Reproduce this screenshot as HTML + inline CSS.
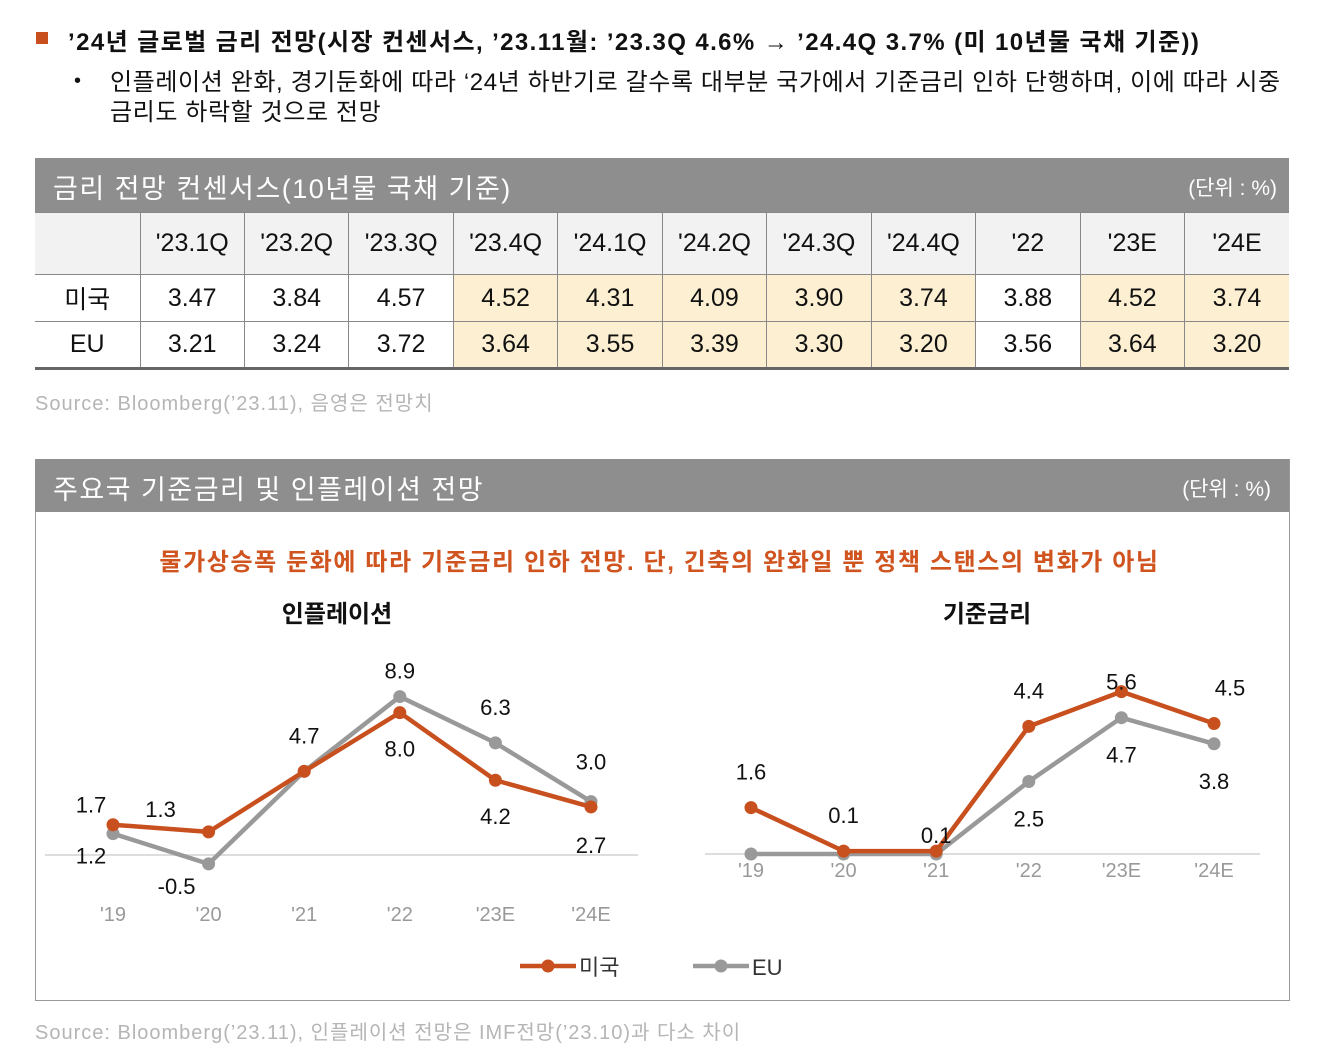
<!DOCTYPE html>
<html><head><meta charset="utf-8">
<style>
*{margin:0;padding:0;box-sizing:border-box}
body{width:1319px;height:1050px;background:#fff;font-family:"Liberation Sans","Noto Sans CJK KR",sans-serif;color:#111;position:relative;overflow:hidden}
.abs{position:absolute;white-space:nowrap}
.hdr{position:absolute;left:35px;width:1254px;background:#8e8e8e;color:#fff}
table{position:absolute;left:35px;top:212px;width:1254px;border-collapse:collapse;table-layout:fixed}
td{text-align:center;font-size:25px;border-left:1px solid #888;border-top:1px solid #888}
td:first-child{border-left:none}
tr.h td{height:62px;background:#f2f2f2}
tr.r td{height:47px}
tr.last td{border-bottom:3px solid #666}
td.f{background:#fdf0d2}
.src{font-size:20px;color:#b5b5b5;letter-spacing:1px}
</style></head><body>
<div class="abs" style="left:36px;top:32px;width:12px;height:12px;background:#c8501e"></div>
<div class="abs" style="left:68px;top:22px;font-size:24px;font-weight:bold;letter-spacing:1.4px">’24년 글로벌 금리 전망(시장 컨센서스, ’23.11월: ’23.3Q 4.6% → ’24.4Q 3.7% (미 10년물 국채 기준))</div>
<div class="abs" style="left:74px;top:70px;font-size:20px">•</div>
<div class="abs" style="left:110px;top:68px;font-size:24px;line-height:30px;letter-spacing:0.6px">인플레이션 완화, 경기둔화에 따라 ‘24년 하반기로 갈수록 대부분 국가에서 기준금리 인하 단행하며, 이에 따라 시중<br>금리도 하락할 것으로 전망</div>

<div class="hdr" style="top:158px;height:54px">
<span class="abs" style="left:18px;top:9px;font-size:27px;letter-spacing:1.5px">금리 전망 컨센서스(10년물 국채 기준)</span>
<span class="abs" style="right:12px;top:14px;font-size:21px">(단위 : %)</span></div>
<table>
<colgroup><col style="width:105px"></colgroup>
<tr class="h"><td></td><td>'23.1Q</td><td>'23.2Q</td><td>'23.3Q</td><td class="f">'23.4Q</td><td class="f">'24.1Q</td><td class="f">'24.2Q</td><td class="f">'24.3Q</td><td class="f">'24.4Q</td><td>'22</td><td class="f">'23E</td><td class="f">'24E</td></tr>
<tr class="r"><td>미국</td><td>3.47</td><td>3.84</td><td>4.57</td><td class="f">4.52</td><td class="f">4.31</td><td class="f">4.09</td><td class="f">3.90</td><td class="f">3.74</td><td>3.88</td><td class="f">4.52</td><td class="f">3.74</td></tr>
<tr class="r last"><td>EU</td><td>3.21</td><td>3.24</td><td>3.72</td><td class="f">3.64</td><td class="f">3.55</td><td class="f">3.39</td><td class="f">3.30</td><td class="f">3.20</td><td>3.56</td><td class="f">3.64</td><td class="f">3.20</td></tr>
</table>
<div class="abs src" style="left:35px;top:387px">Source: Bloomberg(’23.11), 음영은 전망치</div>

<div class="abs" style="left:35px;top:459px;width:1255px;height:542px;border:1px solid #999"></div>
<div class="hdr" style="top:459px;height:53px">
<span class="abs" style="left:18px;top:9px;font-size:27px;letter-spacing:1.5px">주요국 기준금리 및 인플레이션 전망</span>
<span class="abs" style="right:18px;top:14px;font-size:21px">(단위 : %)</span></div>
<div class="abs" style="left:0;width:1319px;text-align:center;top:542px;font-size:24px;font-weight:bold;color:#d0541f;letter-spacing:1.6px">물가상승폭 둔화에 따라 기준금리 인하 전망. 단, 긴축의 완화일 뿐 정책 스탠스의 변화가 아님</div>
<svg class="abs" style="left:0;top:0" width="1319" height="1050" id="svg"></svg>
<div class="abs src" style="left:35px;top:1016px">Source: Bloomberg(’23.11), 인플레이션 전망은 IMF전망(’23.10)과 다소 차이</div>
<script>
const years=["'19","'20","'21","'22","'23E","'24E"];
const inflUS=[1.7,1.3,4.7,8.0,4.2,2.7];
const inflEU=[1.2,-0.5,4.7,8.9,6.3,3.0];
const rateUS=[1.6,0.1,0.1,4.4,5.6,4.5];
const rateEU=[0,0,0,2.5,4.7,3.8];
const inflUSLbl=[[-22,-12],[-48,-15],[0,-28],[0,44],[0,44],[0,46]];
const inflEULbl=[[-22,30],[-32,30],null,[0,-18],[0,-28],[0,-32]];
const rateUSLbl=[[0,-28],[0,-28],[0,-8],[0,-28],[0,-2],[16,-28]];
const rateEULbl=[null,null,null,[0,45],[0,45],[0,45]];
const NS="http://www.w3.org/2000/svg",svg=document.getElementById('svg');
function mk(t,a){const e=document.createElementNS(NS,t);for(const k in a)e.setAttribute(k,a[k]);svg.appendChild(e);return e;}
const OR="#c8501e",GR="#999";
function chart(name,x0,dx,y0,sc,axisX1,axisX2,labY,title,titleX,us,eu,usL,euL){
 const X=i=>x0+i*dx,Y=v=>y0-v*sc;
 const ax=mk('line',{x1:axisX1,x2:axisX2,y1:y0,y2:y0,stroke:'#ddd','stroke-width':2});
 
 const tt=mk('text',{x:titleX,y:622,'text-anchor':'middle','font-size':24,'font-weight':'bold',fill:'#111'});tt.textContent=title;
 
 years.forEach((y,i)=>{const t=mk('text',{x:X(i),y:labY,'text-anchor':'middle','font-size':20,fill:'#999'});t.textContent=y;
  });
 [[eu,GR,'eu',euL],[us,OR,'us',usL]].forEach(([d,c,s,L])=>{
  const p=mk('polyline',{points:d.map((v,i)=>X(i)+','+Y(v)).join(' '),fill:'none',stroke:c,'stroke-width':4.5,'stroke-linejoin':'round'});
  
  d.forEach((v,i)=>{const m=mk('circle',{cx:X(i),cy:Y(v),r:6.5,fill:c});
   });
 });
 [[eu,euL,'eu'],[us,usL,'us']].forEach(([d,L,s])=>d.forEach((v,i)=>{if(!L[i])return;
  const t=mk('text',{x:X(i)+L[i][0],y:Y(v)+L[i][1],'text-anchor':'middle','font-size':22,fill:'#111'});t.textContent=v.toFixed(1);
  }));
}
chart('inflation',113,95.6,855,17.8,45,638,921,'인플레이션',337,inflUS,inflEU,inflUSLbl,inflEULbl);
chart('base-rate',751,92.6,854,29,705,1260,877,'기준금리',987,rateUS,rateEU,rateUSLbl,rateEULbl);
[[520,OR,'미국','legend-us'],[693,GR,'EU','legend-eu']].forEach(([x,c,t,n])=>{
 const l=mk('line',{x1:x,x2:x+56,y1:966,y2:966,stroke:c,'stroke-width':4.5});
 const d=mk('circle',{cx:x+28,cy:966,r:6.5,fill:c});
 const tx=mk('text',{x:x+59,y:975,'font-size':22,fill:'#333'});tx.textContent=t;
});
</script>
</body></html>
